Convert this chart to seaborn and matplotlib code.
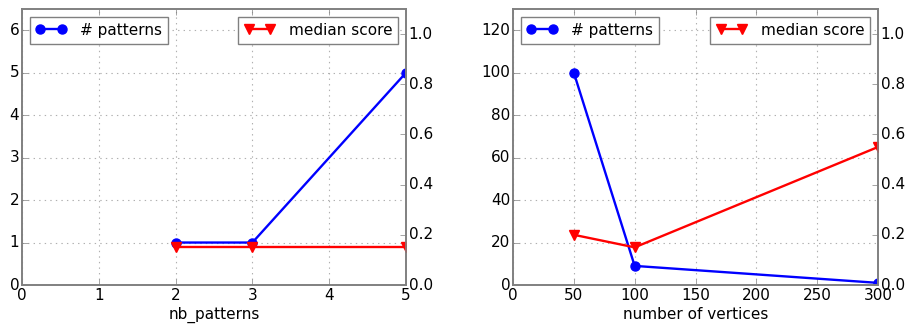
import matplotlib
matplotlib.use("Agg")
import matplotlib.pyplot as plt
import seaborn as sns
import pandas as pd

# data
nbp_x = [2, 3, 5]
nbp_patterns = [1, 1, 5]
nbp_score = [0.15, 0.15, 0.15]

vert_x = [50, 100, 300]
vert_patterns = [100, 9, 1]
vert_score = [0.2, 0.15, 0.55]

plt.style.use("classic")
plt.rcParams["font.family"] = ["DejaVu Sans"]
plt.rcParams["font.size"] = 11

fig = plt.figure(figsize=(9.09, 3.27), dpi=100, facecolor="white")
ax1 = fig.add_axes([22/909, 1-285/327, 384/909, 276/327])
ax2 = fig.add_axes([513/909, 1-285/327, 365/909, 276/327])

def panel(ax, x, pats, score, xlabel, xlim, ylim):
    ax.set_facecolor("white")
    sns.lineplot(x=x, y=pats, ax=ax, color="b", marker="o", markersize=6.5,
                 markeredgecolor="b", markeredgewidth=1, linewidth=1.7,
                 label="# patterns")
    tw = ax.twinx()
    sns.lineplot(x=x, y=score, ax=tw, color="r", marker="v", markersize=6.5,
                 markeredgecolor="r", markeredgewidth=1, linewidth=1.7,
                 label="median score")
    ax.set_xlim(*xlim)
    ax.set_ylim(*ylim)
    tw.set_ylim(0, 1.1)
    ax.set_xlabel(xlabel, fontsize=11, labelpad=3)
    ax.set_ylabel("")
    tw.set_ylabel("")
    ax.grid(True, color="#b0b0b0", linestyle=":", linewidth=0.8)
    ax.set_axisbelow(True)
    for a in (ax, tw):
        for s in a.spines.values():
            s.set_color("#808080")
            s.set_linewidth(1.2)
        a.tick_params(colors="#808080", labelcolor="black", labelsize=11, pad=2)
    ax.legend(loc="upper left", numpoints=2, fontsize=11, fancybox=False,
              edgecolor="#808080", handlelength=2.0, handletextpad=0.9)
    tw.legend(loc="upper right", numpoints=2, fontsize=11, fancybox=False,
              edgecolor="#808080", handlelength=2.0, handletextpad=0.9)
    return tw

panel(ax1, nbp_x, nbp_patterns, nbp_score, "nb_patterns", (0, 5), (0, 6.5))
panel(ax2, vert_x, vert_patterns, vert_score, "number of vertices", (0, 300), (0, 130))
ax1.set_yticks(range(0, 7))
ax2.set_yticks(range(0, 121, 20))

fig.savefig("out.png", dpi=100, facecolor="white")
